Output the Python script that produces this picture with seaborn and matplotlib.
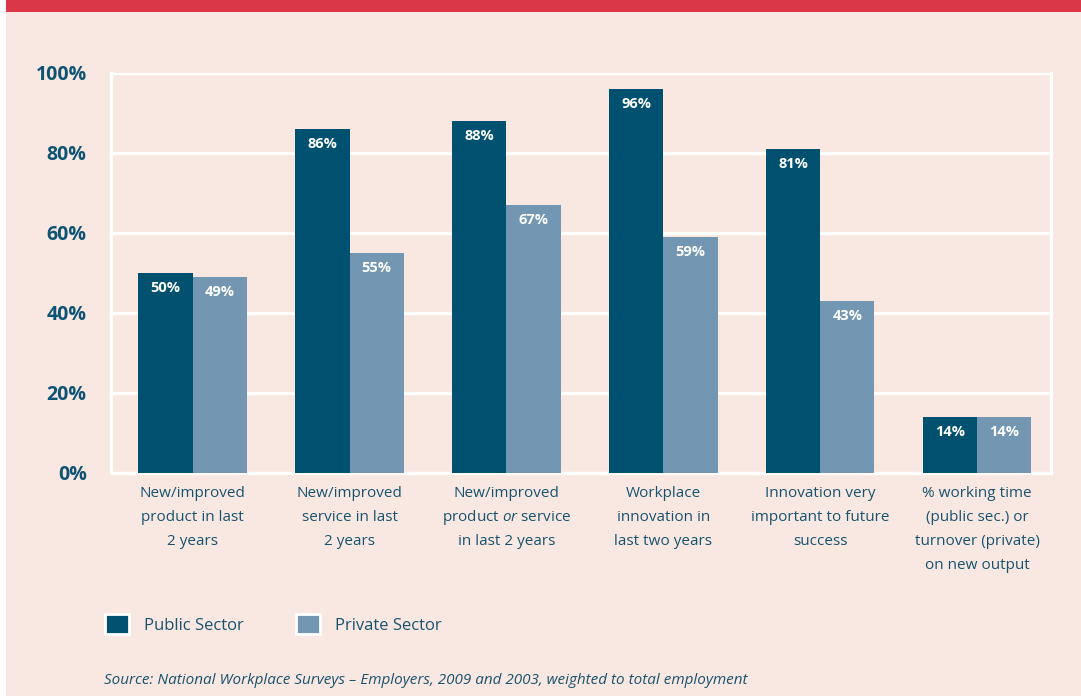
import pandas as pd
import matplotlib
matplotlib.use("Agg")
import matplotlib.pyplot as plt
import matplotlib.transforms as mtransforms
from matplotlib.patches import Rectangle
import seaborn as sns

# Chart data
categories = [
    "New/improved\nproduct in last\n2 years",
    "New/improved\nservice in last\n2 years",
    "New/improved\nproduct $\\it{or}$ service\nin last 2 years",
    "Workplace\ninnovation in\nlast two years",
    "Innovation very\nimportant to future\nsuccess",
    "% working time\n(public sec.) or\nturnover (private)\non new output",
]
public_sector = [50, 86, 88, 96, 81, 14]
private_sector = [49, 55, 67, 59, 43, 14]
sectors = ["Public Sector", "Private Sector"]
y_ticks = [0, 20, 40, 60, 80, 100]

df = pd.DataFrame({
    "category": list(range(6)) * 2,
    "sector": [sectors[0]] * 6 + [sectors[1]] * 6,
    "value": public_sector + private_sector,
})

PINK = "#F9E8E2"
RED = "#DA3848"
DARK = "#00506F"
LIGHT = "#7397B2"
TEXT = "#17536F"

sns.set_style("white")
plt.rcParams["font.family"] = ["Open Sans", "DejaVu Sans"]
plt.rcParams["mathtext.fontset"] = "custom"
plt.rcParams["mathtext.rm"] = "Open Sans"
plt.rcParams["mathtext.it"] = "Open Sans:italic"

fig = plt.figure(figsize=(10.81, 6.96), dpi=100, facecolor="white")
# pink panel + red band on top
fig.patches.append(Rectangle((6 / 1081, 0), 1, 1, transform=fig.transFigure,
                             facecolor=PINK, edgecolor="none", zorder=-2))
fig.patches.append(Rectangle((6 / 1081, 1 - 12 / 696), 1, 12 / 696,
                             transform=fig.transFigure, facecolor=RED,
                             edgecolor="none", zorder=-1))

ax = fig.add_axes([111 / 1081, 1 - 473 / 696, (1051 - 111) / 1081, 400 / 696])
ax.set_facecolor(PINK)

sns.barplot(data=df, x="category", y="value", hue="sector",
            palette=[DARK, LIGHT], width=0.69, saturation=1,
            edgecolor="none", linewidth=0, ax=ax, zorder=3)

for cont in ax.containers:
    ax.bar_label(cont, labels=[f"{v:.0f}%" for v in cont.datavalues],
                 padding=-16, color="white", fontsize=10.5, fontweight="bold")

ax.set_ylim(0, 100)
ax.set_xlim(-0.52, 5.47)
ax.set_yticks(y_ticks)
ax.set_yticklabels([f"{t}%" for t in y_ticks], fontsize=14, fontweight="bold",
                   color="#0D5474")
ax.yaxis.grid(True, color="white", linewidth=2.3, zorder=0)
ax.tick_params(axis="y", length=9.5, width=2.3, color="white", pad=8)
ax.set_xticks(range(6))
ax.set_xticklabels([])
ax.tick_params(axis="x", which="major", length=0)
ax.set_xticks([-0.52, 0.5, 1.5, 2.5, 3.5, 4.5, 5.47], minor=True)
ax.tick_params(axis="x", which="minor", length=12.5, width=2.3, color="white")
for side in ["left", "right", "bottom"]:
    ax.spines[side].set_color("white")
    ax.spines[side].set_linewidth(2.3)
ax.spines["top"].set_visible(False)
ax.set_xlabel("")
ax.set_ylabel("")

# category labels, one text per line so spacing stays even
trans = mtransforms.blended_transform_factory(ax.transData, ax.transAxes)
for i, label in enumerate(categories):
    for j, line in enumerate(label.split("\n")):
        off = mtransforms.offset_copy(trans, fig=fig, y=-(24 + 24 * j) * 0.72,
                                      units="points")
        ax.text(i, 0, line, transform=off, ha="center", va="baseline",
                fontsize=11, color=TEXT)

leg = ax.legend(loc="center left", bbox_to_anchor=(90 / 1081, 1 - 624 / 696),
                bbox_transform=fig.transFigure, ncol=2, frameon=False,
                fontsize=12, handlelength=1.45, handleheight=1.45,
                handletextpad=0.9, columnspacing=3.1)
for h in leg.legend_handles:
    h.set_edgecolor("white")
    h.set_linewidth(2)
for t in leg.get_texts():
    t.set_color(TEXT)

fig.text(104 / 1081, 1 - 681 / 696,
         "Source: National Workplace Surveys \u2013 Employers, 2009 and 2003, "
         "weighted to total employment",
         fontsize=11, style="italic", color=TEXT, va="center")

fig.savefig("out.png", dpi=100, facecolor=fig.get_facecolor())
